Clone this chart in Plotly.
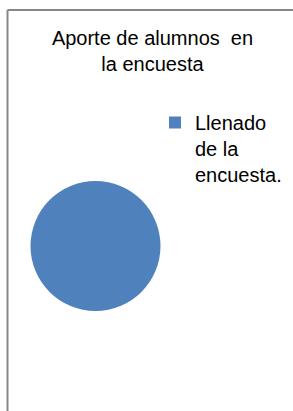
import plotly.graph_objects as go

# Data
labels = ["Llenado de la encuesta."]
values = [100]
title_text = "Aporte de alumnos\u00a0 en<br>la encuesta"
colors = ["#4F81BD"]

W, H = 293, 411

legend_labels = [l.replace(" de la ", "<br>de la<br>") for l in labels]

fig = go.Figure(
    go.Pie(
        labels=legend_labels,
        values=values,
        marker=dict(colors=colors, line=dict(width=0)),
        textinfo="none",
        hoverinfo="label+value",
        sort=False,
        domain=dict(x=[(95.5 - 65) / W, (95.5 + 65) / W],
                    y=[(H - 246 - 65) / H, (H - 246 + 65) / H]),
    )
)

fig.update_layout(
    width=W,
    height=H,
    margin=dict(l=0, r=0, t=0, b=0),
    paper_bgcolor="white",
    plot_bgcolor="white",
    font=dict(family="Arial, Liberation Sans, sans-serif", size=20, color="#000000"),
    title=dict(
        text=title_text,
        x=152.5 / W,
        xanchor="center",
        y=1 - 45 / H,
        yanchor="top",
        yref="container",
        font=dict(size=20, color="#000000"),
    ),
    showlegend=True,
    legend=dict(
        x=155 / W,
        y=1 - 103 / H,
        xanchor="left",
        yanchor="top",
        valign="top",
        font=dict(size=20, color="#000000"),
        bgcolor="rgba(0,0,0,0)",
        borderwidth=0,
    ),
    shapes=[
        dict(type="line", xref="paper", yref="paper",
             x0=7.5 / W, x1=1.05, y0=1 - 10 / H, y1=1 - 10 / H,
             line=dict(color="#878787", width=2)),
        dict(type="line", xref="paper", yref="paper",
             x0=7.5 / W, x1=7.5 / W, y0=-0.05, y1=1 - 10 / H,
             line=dict(color="#878787", width=2)),
    ],
)

fig.write_html("out.html", config={"displayModeBar": False},
               post_script="document.body.style.margin='0px';")
